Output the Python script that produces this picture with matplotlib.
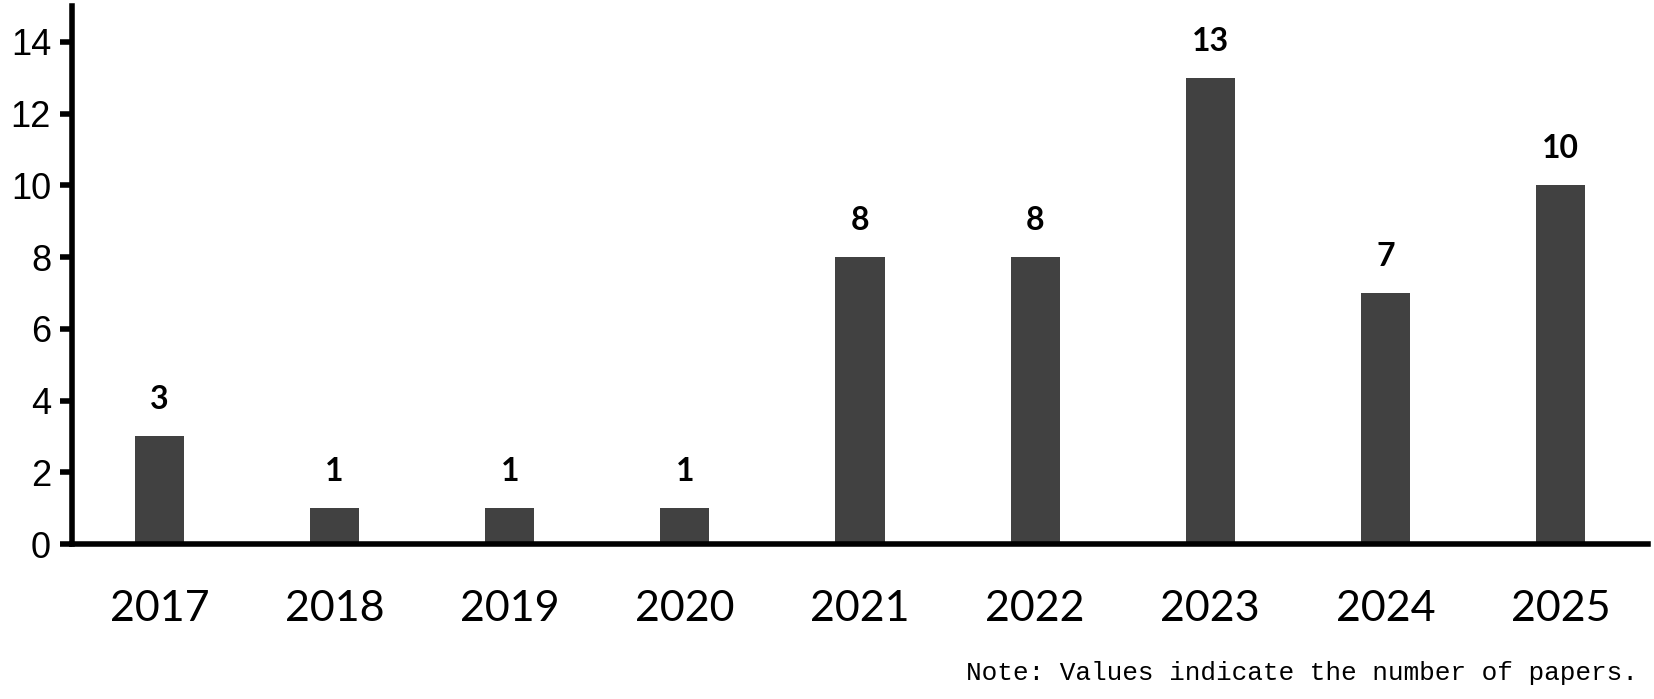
import matplotlib
matplotlib.use("Agg")
import matplotlib.pyplot as plt
import numpy as np

years = ["2017", "2018", "2019", "2020", "2021", "2022", "2023", "2024", "2025"]
papers = [3, 1, 1, 1, 8, 8, 13, 7, 10]
yticks = [0, 2, 4, 6, 8, 10, 12, 14]
note = "Note: Values indicate the number of papers."

fig = plt.figure(figsize=(16.54, 6.99), dpi=100)
ax = fig.add_axes([0.0435, 0.2217, 0.9529, 0.7697])

x = np.arange(len(years))
bars = ax.bar(x, papers, width=0.28, color="#414141", zorder=2)

ax.set_xlim(-0.5, len(years) - 0.5)
ax.set_ylim(0, 15)
ax.set_yticks(yticks)
ax.set_yticklabels([str(v) for v in yticks], fontfamily="Liberation Sans", fontsize=26)
ax.set_xticks(x)
ax.set_xticklabels(years, fontfamily="Lato", fontsize=31)

for s in ["top", "right"]:
    ax.spines[s].set_visible(False)
for s in ["left", "bottom"]:
    ax.spines[s].set_linewidth(4)
    ax.spines[s].set_color("black")

ax.tick_params(axis="y", length=9, width=4, direction="out", pad=6)
ax.tick_params(axis="x", length=0, pad=33)

for xi, v in zip(x, papers):
    ax.annotate(str(v), (xi, v), xytext=(0, 16), textcoords="offset points",
                ha="center", va="bottom", fontfamily="Lato", fontweight="bold",
                fontsize=23)

fig.text(0.990, 0.037, note, ha="right", va="center",
         fontfamily="Liberation Mono", fontsize=18.8)

fig.savefig("out.png", dpi=100)
